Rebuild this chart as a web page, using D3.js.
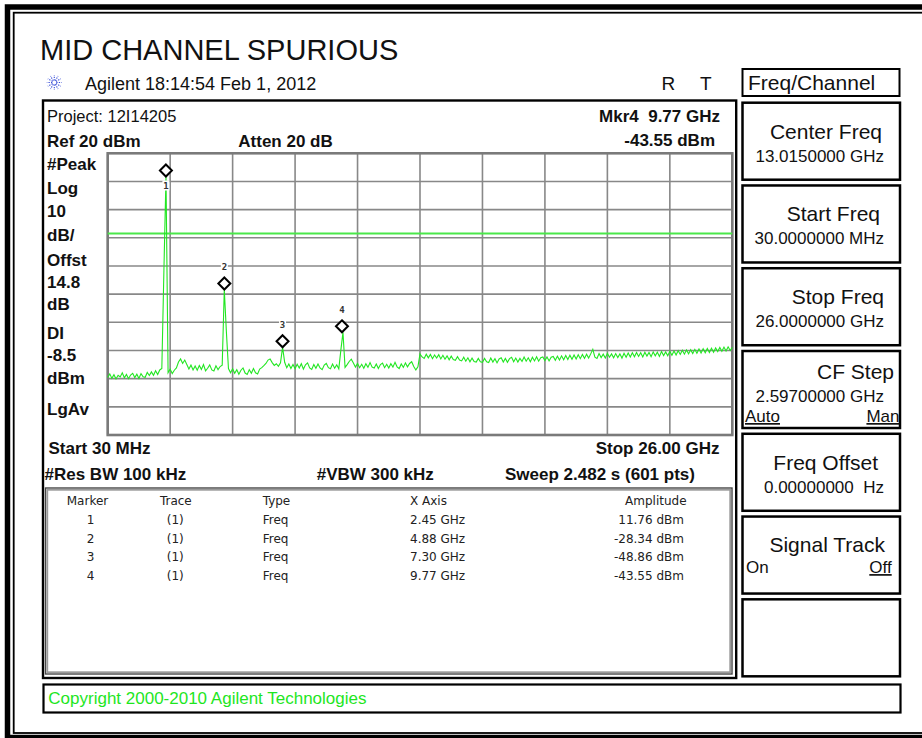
<!DOCTYPE html>
<head>
	<meta charset="utf-8" />
	<style>
		body {
			margin: 0;
			background: #fff;
		}
		svg {
			display: block;
		}
		text {
			font-family: 'Liberation Sans', Arial, sans-serif;
			fill: #111;
		}
		.tbl {
			font-family: 'DejaVu Sans', sans-serif;
			font-size: 12px;
			fill: #222;
		}
	</style>
</head>

<body>
	<div id="chart-area"></div>

	<script src="https://cdnjs.cloudflare.com/ajax/libs/d3/7.8.5/d3.min.js"></script>
	<script>
		// ---- values ----
		var title = 'MID CHANNEL SPURIOUS';
		var stamp = 'Agilent 18:14:54  Feb 1, 2012';
		var project = 'Project: 12I14205';

		var refLevel = 20; // dBm, top of graticule
		var dbPerDiv = 10;
		var divisions = 10;
		var displayLine = -8.5; // dBm
		var startGHz = 0.03;
		var stopGHz = 26.0;

		var scaleLabels = ['#Peak', 'Log', '10', 'dB/', 'Offst', '14.8', 'dB', 'DI', '-8.5', 'dBm', 'LgAv'];

		var markerIds = ['1', '2', '3', '4'];
		var markerTrace = ['(1)', '(1)', '(1)', '(1)'];
		var markerType = ['Freq', 'Freq', 'Freq', 'Freq'];
		var markerGHz = [2.45, 4.88, 7.3, 9.77];
		var markerDbm = [11.76, -28.34, -48.86, -43.55];

		var keyLabels = ['Center Freq', 'Start Freq', 'Stop Freq', 'CF Step', 'Freq Offset', 'Signal Track', ''];
		var keyValues = ['13.0150000 GHz', '30.0000000 MHz', '26.0000000 GHz', '2.59700000 GHz', '0.00000000\u00a0\u00a0Hz', '', ''];

		// trace 1, 301 points across the sweep (dBm)
		var traceDbm = [
			// 0-26
			-59.6, -58.3, -59.9, -58.6, -60.1, -58.8, -59.4, -57.9, -59.7, -58.5,
			-60.0, -58.7, -58.1, -59.6, -58.4, -59.9, -58.2, -59.3, -59.5, -57.8,
			-58.9, -57.6, -58.8, -57.2, -58.5, -56.9, -56.4,
			// 27-28 carrier
			-21.5, 11.76,
			// 29-55
			-57.9, -56.6, -58.2, -57.0, -56.2,
			-54.1, -53.0, -54.6, -53.4,
			-55.0, -56.6, -55.2, -56.9, -55.5, -57.0, -55.3, -56.7, -55.0, -57.2,
			-56.3, -55.1, -56.9, -57.3, -55.4, -56.8, -55.7, -55.2,
			// 56-57 2nd harmonic
			-28.34, -43.3,
			// 58-83
			-56.4, -57.9, -56.5, -58.1, -56.8, -58.4, -57.0, -56.2, -58.0, -58.5,
			-56.8, -58.1, -56.4, -57.9, -58.3, -56.6, -56.1, -55.4,
			-54.6, -53.4, -53.0, -54.3,
			-55.3, -54.7, -55.6, -54.4,
			// 84 3rd harmonic
			-48.86,
			// 85-111
			-54.2, -56.1, -54.8, -56.4, -55.0, -56.5, -54.9, -56.2, -54.7, -56.6,
			-55.1, -54.4, -56.2, -56.7, -55.0, -56.3, -54.8, -56.2, -56.8, -55.2,
			-54.6, -56.1, -56.5, -54.8, -56.3, -55.1, -56.5,
			// 112-113 4th harmonic
			-49.8, -43.55,
			// 114-149
			-56.0, -55.0, -53.9, -53.1, -54.4, -55.9, -54.6, -56.1, -54.9, -56.3,
			-54.7, -56.0, -54.3, -55.9, -56.2, -54.8, -56.4, -55.0, -54.5, -56.1,
			-54.9, -56.2, -54.7, -55.9, -54.2, -55.8, -56.4, -54.8, -56.0, -54.4,
			-55.8, -54.6, -54.0, -55.7, -56.9, -55.8,
			// 150-179
			-51.2, -52.3, -52.8, -51.3, -52.6, -51.4, -52.9, -51.6, -52.7, -51.5,
			-53.0, -51.7, -53.1, -51.9, -53.3, -52.0, -53.2, -53.5, -52.2, -53.4,
			-53.7, -52.4, -53.8, -52.6, -54.0, -52.7, -53.9, -54.1, -52.8, -54.0,
			// 180-209
			-54.2, -52.8, -54.0, -54.3, -52.7, -54.1, -52.9, -54.4, -53.0, -52.6,
			-54.1, -52.8, -54.2, -52.9, -52.4, -54.0, -52.7, -54.1, -52.8, -53.9,
			-52.3, -53.8, -52.6, -54.0, -52.4, -53.7, -52.2, -53.8, -52.6, -52.3,
			// 210-244
			-53.6, -52.3, -53.7, -52.4, -52.1, -53.5, -52.0, -53.4, -51.9, -53.3,
			-51.8, -53.2, -51.7, -53.1, -51.6, -53.0, -51.5, -52.9, -51.4, -52.8,
			-51.3, -52.7, -51.2, -49.6, -52.4, -52.8, -51.1, -52.5, -51.3, -52.7,
			-51.0, -52.4, -51.2, -52.6, -51.1,
			// 245-269
			-52.5, -51.2, -52.7, -51.0, -52.4, -50.9, -52.3, -50.8, -52.2, -50.7,
			-52.1, -50.8, -52.3, -50.6, -52.0, -50.7, -52.2, -50.5, -51.9, -50.6,
			-52.1, -50.4, -51.8, -50.5, -51.9,
			// 270-300
			-50.3, -51.7, -50.2, -51.6, -50.1, -51.4, -49.9, -51.3, -49.8, -51.2,
			-49.7, -51.1, -49.6, -51.0, -49.5, -50.9, -49.4, -50.8, -49.3, -50.7,
			-49.2, -50.6, -49.1, -50.4, -48.9, -50.3, -48.8, -50.2, -48.7, -50.0,
			-48.9,
		];

		// ---- drawing ----
		var svg = d3.select('#chart-area').append('svg').attr('width', 922).attr('height', 738);

		function txt(x, y, s, size, o) {
			o = o || {};
			var t = svg
				.append('text')
				.attr('x', x)
				.attr('y', y)
				.attr('text-anchor', o.anchor || 'start')
				.style('font-size', size + 'px')
				.text(s);
			if (o.bold) t.attr('font-weight', 'bold');
			if (o.fill) t.style('fill', o.fill);
			if (o.cls) t.attr('class', o.cls);
			if (o.under) t.style('text-decoration', 'underline');
			return t;
		}

		function box(x, y, w, h, sw, col) {
			svg.append('rect')
				.attr('x', x).attr('y', y).attr('width', w).attr('height', h)
				.attr('fill', 'none')
				.attr('stroke', col || '#000')
				.attr('stroke-width', sw);
		}

		// outer double frame (right side runs off the picture)
		box(7.5, 7, 940, 730.5, 5.5);
		box(13.7, 12.7, 940, 720.3, 1.8);

		txt(40, 60, title, 29);

		// Agilent spark
		var spark = svg.append('g').attr('transform', 'translate(54.3,82.5)');
		d3.range(12).forEach(function (k) {
			var a = (k * Math.PI) / 6;
			spark.append('line')
				.attr('x1', 2 * Math.cos(a)).attr('y1', 2 * Math.sin(a))
				.attr('x2', 7.5 * Math.cos(a)).attr('y2', 7.5 * Math.sin(a))
				.attr('stroke', '#3a4fd8').attr('stroke-width', 1.1)
				.attr('stroke-dasharray', '1.3,1.2');
		});
		txt(85, 90, stamp, 18);
		txt(661.5, 90, 'R', 19);
		txt(700, 90, 'T', 19);

		// screen box
		box(43, 100.5, 693.2, 577.5, 2.4);

		txt(47, 121.5, project, 16.5);
		txt(720, 122, 'Mkr' + markerIds[3] + '\u00a0\u00a0' + markerGHz[3].toFixed(2) + ' GHz', 17, { bold: true, anchor: 'end' });
		txt(715, 146, markerDbm[3].toFixed(2) + ' dBm', 17, { bold: true, anchor: 'end' });
		txt(47, 146.5, 'Ref ' + refLevel + ' dBm', 17, { bold: true });
		txt(238.3, 146.5, 'Atten 20 dB', 17, { bold: true });

		var labelY = [169.5, 193.5, 217, 241, 265.5, 288, 309.5, 338.5, 361, 383.5, 415];
		scaleLabels.forEach(function (s, i) {
			txt(47, labelY[i], s, 17, { bold: true });
		});

		// graticule
		var x = d3.scaleLinear().domain([startGHz, stopGHz]).range([107.7, 732.3]);
		var y = d3.scaleLinear()
			.domain([refLevel, refLevel - dbPerDiv * divisions])
			.range([153.3, 435]);

		var grid = svg.append('g').attr('stroke', '#888').attr('stroke-width', 1.6);
		var vx = d3.range(divisions + 1).map(function (i) {
			return startGHz + (i * (stopGHz - startGHz)) / divisions;
		});
		grid.selectAll('.v').data(vx).join('line')
			.attr('x1', d => x(d)).attr('x2', d => x(d))
			.attr('y1', y.range()[0]).attr('y2', y.range()[1]);
		grid.selectAll('.h').data(y.ticks(divisions)).join('line')
			.attr('y1', d => y(d)).attr('y2', d => y(d))
			.attr('x1', x.range()[0]).attr('x2', x.range()[1]);
		svg.append('rect')
			.attr('x', x.range()[0]).attr('y', y.range()[0])
			.attr('width', x.range()[1] - x.range()[0])
			.attr('height', y.range()[1] - y.range()[0])
			.attr('fill', 'none').attr('stroke', '#7a7a7a').attr('stroke-width', 2.6);

		// display line
		svg.append('line')
			.attr('x1', x.range()[0]).attr('x2', x.range()[1])
			.attr('y1', y(displayLine)).attr('y2', y(displayLine))
			.attr('stroke', '#4ae84a').attr('stroke-width', 2);

		// trace
		var step = (stopGHz - startGHz) / (traceDbm.length - 1);
		var line = d3.line()
			.x((d, i) => x(startGHz + i * step))
			.y(d => y(d));
		svg.append('path')
			.datum(traceDbm)
			.attr('d', line)
			.attr('fill', 'none')
			.attr('stroke', '#22e622')
			.attr('stroke-width', 1.1);

		// markers: bottom tip of the diamond sits on the marker level
		markerGHz.forEach(function (f, i) {
			var mx = x(f), my = y(markerDbm[i]);
			var cy = my - 6;
			var ly = i === 0 ? cy + 15 : cy - 16.5;
			svg.append('rect')
				.attr('x', mx - 3.5).attr('y', ly - 5)
				.attr('width', 7).attr('height', 10)
				.attr('fill', '#fff');
			svg.append('text')
				.attr('x', mx).attr('y', ly + 3.5)
				.attr('text-anchor', 'middle')
				.style('font-family', 'DejaVu Sans Mono, monospace')
				.style('font-size', '9px')
				.style('font-weight', 'bold')
				.style('fill', '#333')
				.text(markerIds[i]);
			svg.append('path')
				.attr('d', 'M' + mx + ',' + (cy - 6) + 'L' + (mx + 6) + ',' + cy + 'L' + mx + ',' + (cy + 6) + 'L' + (mx - 6) + ',' + cy + 'Z')
				.attr('fill', '#fff')
				.attr('stroke', '#000')
				.attr('stroke-width', 2);
		});

		// sweep settings
		txt(48.5, 454, 'Start 30 MHz', 17, { bold: true });
		txt(719.5, 454, 'Stop ' + stopGHz.toFixed(2) + ' GHz', 17, { bold: true, anchor: 'end' });
		txt(44.5, 480, '#Res BW 100 kHz', 17, { bold: true });
		txt(316.7, 480, '#VBW 300 kHz', 17, { bold: true });
		txt(505, 480, 'Sweep 2.482 s (601 pts)', 17, { bold: true });

		// marker table
		box(45.5, 488, 686.5, 186, 1.4, '#444');
		box(47.3, 489.8, 682.9, 182.4, 1.8, '#9a9a9a');
		txt(87.5, 505, 'Marker', 12, { cls: 'tbl', anchor: 'middle' });
		txt(175.8, 505, 'Trace', 12, { cls: 'tbl', anchor: 'middle' });
		txt(262.7, 505, 'Type', 12, { cls: 'tbl' });
		txt(410, 505, 'X Axis', 12, { cls: 'tbl' });
		txt(655.8, 505, 'Amplitude', 12, { cls: 'tbl', anchor: 'middle' });
		markerIds.forEach(function (id, i) {
			var ry = 524 + i * 18.7;
			txt(90.5, ry, id, 12, { cls: 'tbl', anchor: 'middle' });
			txt(175.3, ry, markerTrace[i], 12, { cls: 'tbl', anchor: 'middle' });
			txt(262.7, ry, markerType[i], 12, { cls: 'tbl' });
			txt(410, ry, markerGHz[i].toFixed(2) + ' GHz', 12, { cls: 'tbl' });
			txt(684, ry, markerDbm[i].toFixed(2) + ' dBm', 12, { cls: 'tbl', anchor: 'end' });
		});

		// copyright line
		box(43.5, 684.5, 857, 28, 2.2);
		txt(48.3, 704.3, 'Copyright 2000-2010 Agilent Technologies', 17, { fill: '#1ee61e' });

		// softkey panel
		box(742.5, 69, 157, 27, 2);
		txt(748, 90, 'Freq/Channel', 21);
		var labelEnd = [882, 880, 884, 894, 878, 885];
		keyLabels.forEach(function (s, k) {
			var top = 101.7 + k * 82.77;
			box(742.5, top + 1, 157.5, 77, 2.5);
			if (!s) return;
			if (k === 3) {
				txt(labelEnd[k], top + 28.5, s, 21, { anchor: 'end' });
				txt(884, top + 52, keyValues[k], 17, { anchor: 'end' });
				txt(745, top + 72, 'Auto', 17, { under: true });
				txt(899.5, top + 72, 'Man', 17, { anchor: 'end', under: true });
			} else if (k === 5) {
				txt(labelEnd[k], top + 36, s, 21, { anchor: 'end' });
				txt(746, top + 57.5, 'On', 17);
				txt(891.7, top + 57.5, 'Off', 17, { anchor: 'end', under: true });
			} else {
				txt(labelEnd[k], top + 37, s, 21, { anchor: 'end' });
				txt(884, top + 60, keyValues[k], 17, { anchor: 'end' });
			}
		});
	</script>
</body>
